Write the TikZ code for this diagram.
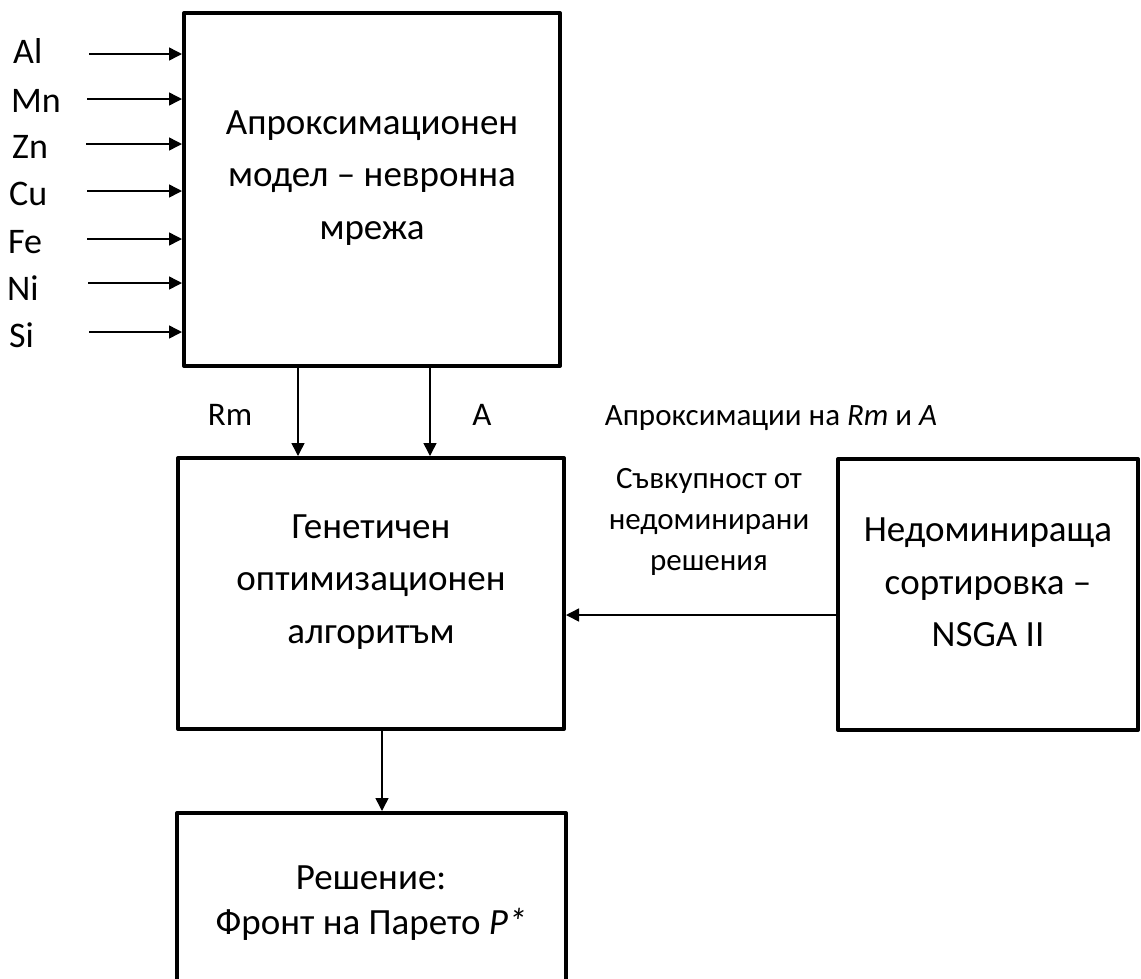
\documentclass[tikz,border=0pt]{standalone}
\usepackage{fontspec}
\setmainfont{Carlito}
\usetikzlibrary{arrows.meta}
\tikzset{
  box/.style={draw, line width=4pt, line join=round, inner sep=0pt},
  arr/.style={line width=1.5pt, -{Triangle[length=13pt,width=13pt]}},
  boxtext/.style={font=\fontsize{37}{52.5}\selectfont, align=center, inner sep=0pt},
  inlabel/.style={font=\fontsize{36}{43}\selectfont, inner sep=0pt, anchor=base west},
  outlabel/.style={font=\fontsize{33}{40}\selectfont, inner sep=0pt, anchor=base},
  midlabel/.style={font=\fontsize{31}{41}\selectfont, align=center, inner sep=0pt},
}
\begin{document}
\begin{tikzpicture}[x=1pt,y=-1pt]
\path[use as bounding box, clip] (0,0) rectangle (1141,978);

% boxes
\node[box, minimum width=376pt, minimum height=353pt] (b1) at (372,189.5) {};
\node[box, minimum width=386pt, minimum height=271pt] (b2) at (371,593.5) {};
\node[box, minimum width=300pt, minimum height=271pt] (b3) at (988,594.5) {};
\node[box, minimum width=389pt, minimum height=200pt] (b4) at (371.5,913) {};

% box texts
\node[boxtext] (t1) at (372,178) {Апроксимационен\\модел – невронна\\мрежа};
\node[boxtext] (t2) at (371,582) {Генетичен\\оптимизационен\\алгоритъм};
\node[boxtext] (t3) at (988,582.5) {Недоминираща\\сортировка –\\NSGA II};
\node[boxtext, font=\fontsize{37}{45}\selectfont] (t4) at (371,903) {Решение:\\Фронт на Парето \textit{P*}};

% input labels
\node[inlabel] (lAl) at (13,63) {Al};
\node[inlabel] (lMn) at (11,112) {Mn};
\node[inlabel] (lZn) at (12,158) {Zn};
\node[inlabel] (lCu) at (9,205) {Cu};
\node[inlabel] (lFe) at (8,253) {Fe};
\node[inlabel] (lNi) at (7,300) {Ni};
\node[inlabel] (lSi) at (9,347) {Si};

% input arrow starts
\coordinate (sAl) at (89,54);
\coordinate (sMn) at (87,99);
\coordinate (sZn) at (86,144);
\coordinate (sCu) at (87,191);
\coordinate (sFe) at (87,239);
\coordinate (sNi) at (88,283);
\coordinate (sSi) at (89,332);
\foreach \c in {sAl,sMn,sZn,sCu,sFe,sNi,sSi}{
  \draw[arr] (\c) -- (\c -| b1.west);
}

% outputs of b1
\coordinate (rmtop) at (298,366);
\coordinate (atop) at (430,366);
\draw[arr] (rmtop) -- (rmtop |- b2.north);
\draw[arr] (atop) -- (atop |- b2.north);
\node[outlabel] (lRm) at (230,425) {Rm};
\node[outlabel] (lA) at (482,425) {A};

% middle labels
\node[midlabel, anchor=base] (lapprox) at (771,425) {Апроксимации на \textit{Rm} и \textit{A}};
\node[midlabel] (lset) at (709,521.5) {Съвкупност от\\недоминирани\\решения};

% b3 -> b2
\coordinate (c3) at (838,615);
\draw[arr] (c3 -| b3.west) -- (c3 -| b2.east);

% b2 -> b4
\coordinate (c2) at (382,729);
\draw[arr] (c2 |- b2.south) -- (c2 |- b4.north);
\end{tikzpicture}
\end{document}
